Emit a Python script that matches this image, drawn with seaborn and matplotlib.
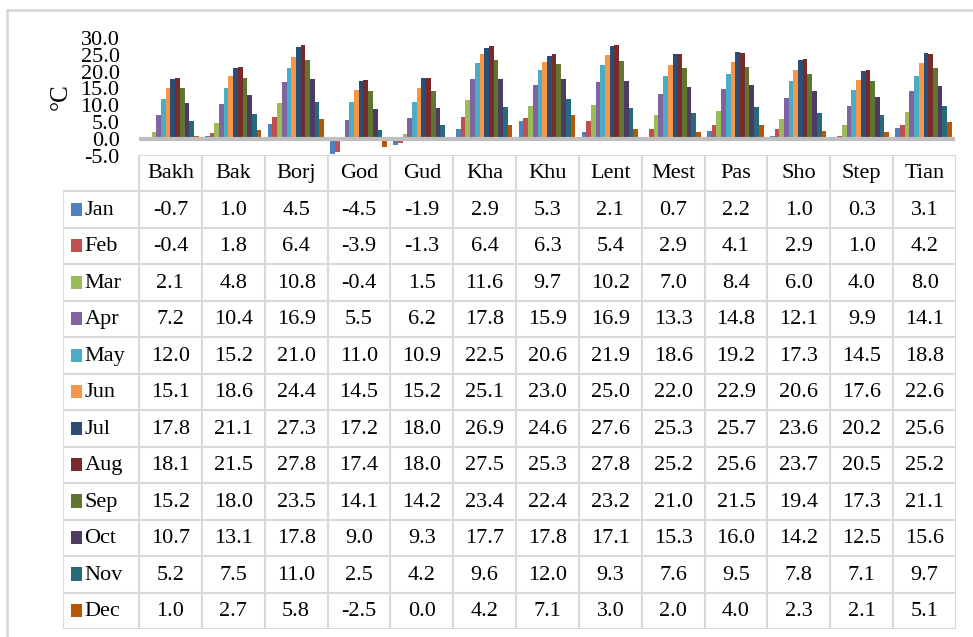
import numpy as np
import pandas as pd
import matplotlib
matplotlib.use("Agg")
import matplotlib.pyplot as plt
import seaborn as sns
from matplotlib.lines import Line2D
from matplotlib.patches import Rectangle

sites = ["Bakh", "Bak", "Borj", "God", "Gud", "Kha", "Khu", "Lent",
         "Mest", "Pas", "Sho", "Step", "Tian"]
months = ["Jan", "Feb", "Mar", "Apr", "May", "Jun",
          "Jul", "Aug", "Sep", "Oct", "Nov", "Dec"]

jan = [-0.7, 1.0, 4.5, -4.5, -1.9, 2.9, 5.3, 2.1, 0.7, 2.2, 1.0, 0.3, 3.1]
feb = [-0.4, 1.8, 6.4, -3.9, -1.3, 6.4, 6.3, 5.4, 2.9, 4.1, 2.9, 1.0, 4.2]
mar = [2.1, 4.8, 10.8, -0.4, 1.5, 11.6, 9.7, 10.2, 7.0, 8.4, 6.0, 4.0, 8.0]
apr = [7.2, 10.4, 16.9, 5.5, 6.2, 17.8, 15.9, 16.9, 13.3, 14.8, 12.1, 9.9, 14.1]
may = [12.0, 15.2, 21.0, 11.0, 10.9, 22.5, 20.6, 21.9, 18.6, 19.2, 17.3, 14.5, 18.8]
jun = [15.1, 18.6, 24.4, 14.5, 15.2, 25.1, 23.0, 25.0, 22.0, 22.9, 20.6, 17.6, 22.6]
jul = [17.8, 21.1, 27.3, 17.2, 18.0, 26.9, 24.6, 27.6, 25.3, 25.7, 23.6, 20.2, 25.6]
aug = [18.1, 21.5, 27.8, 17.4, 18.0, 27.5, 25.3, 27.8, 25.2, 25.6, 23.7, 20.5, 25.2]
sep = [15.2, 18.0, 23.5, 14.1, 14.2, 23.4, 22.4, 23.2, 21.0, 21.5, 19.4, 17.3, 21.1]
oct_ = [10.7, 13.1, 17.8, 9.0, 9.3, 17.7, 17.8, 17.1, 15.3, 16.0, 14.2, 12.5, 15.6]
nov = [5.2, 7.5, 11.0, 2.5, 4.2, 9.6, 12.0, 9.3, 7.6, 9.5, 7.8, 7.1, 9.7]
dec = [1.0, 2.7, 5.8, -2.5, 0.0, 4.2, 7.1, 3.0, 2.0, 4.0, 2.3, 2.1, 5.1]

series = [jan, feb, mar, apr, may, jun, jul, aug, sep, oct_, nov, dec]
colors = ["#4F81BD", "#C0504D", "#9BBB59", "#8064A2", "#4BACC6", "#F79646",
          "#2C4D75", "#772C2A", "#5F7530", "#4D3B62", "#276A7C", "#B65708"]
yticks = [-5.0, 0.0, 5.0, 10.0, 15.0, 20.0, 25.0, 30.0]

df = pd.DataFrame({
    "site": np.tile(sites, len(months)),
    "month": np.repeat(months, len(sites)),
    "temp": np.concatenate(series),
})

W, H = 973, 637
fig = plt.figure(figsize=(W / 100, H / 100), dpi=100)
serif = ["Liberation Serif", "DejaVu Serif"]
grid_c = "#D9D9D9"

def px(x0, y0, x1, y1):
    return [x0 / W, 1 - y1 / H, (x1 - x0) / W, (y1 - y0) / H]

# outer chart frame
frame = fig.add_axes([0, 0, 1, 1])
frame.set_xlim(0, W)
frame.set_ylim(H, 0)
frame.axis("off")
frame.add_line(Line2D([7, W], [10, 10], color=grid_c, lw=2))
frame.add_line(Line2D([7, 7], [10, H], color=grid_c, lw=2))

# bar chart
ax = fig.add_axes(px(139, 38, 955, 155.7))
sns.barplot(data=df, x="site", y="temp", hue="month", hue_order=months,
            palette=colors, width=0.9, ax=ax, legend=False, saturation=1,
            errorbar=None, edgecolor="none")
ax.set_ylim(-5, 30)
ax.set_xlim(-0.5, len(sites) - 0.5)
ax.set_yticks(yticks)
ax.set_yticklabels([f"{v:.1f}" for v in yticks], fontsize=16, family=serif)
ax.tick_params(axis="y", length=0, pad=14)
ax.set_xticks([])
ax.set_xlabel("")
ax.set_ylabel("°C", fontsize=18, family=serif, labelpad=6)
for s in ax.spines.values():
    s.set_visible(False)
ax.axhline(0, color="#BFBFBF", lw=3, zorder=5)

# data table
tab = fig.add_axes(px(63, 155, 956, 629))
ncol_w = 76 / ((956 - 139) / len(sites))
tab.set_xlim(-ncol_w, len(sites))
tab.set_ylim(len(months) + 1, 0)
tab.axis("off")

for i in range(len(sites) + 1):
    tab.add_line(Line2D([i, i], [0, len(months) + 1], color=grid_c, lw=1.5))
tab.add_line(Line2D([-ncol_w, -ncol_w], [1, len(months) + 1], color=grid_c, lw=1.5))
tab.add_line(Line2D([0, len(sites)], [0, 0], color=grid_c, lw=1.5))
for r in range(1, len(months) + 2):
    tab.add_line(Line2D([-ncol_w, len(sites)], [r, r], color=grid_c, lw=1.5))

for j, s in enumerate(sites):
    tab.text(j + 0.5, 0.52, s, ha="center", va="center", fontsize=16, family=serif)

for r, (m, vals) in enumerate(zip(months, series)):
    y = r + 1.5
    tab.add_patch(Rectangle((-ncol_w + 0.13, y - 0.19), 0.18, 0.36,
                            color=colors[r], lw=0))
    tab.text(-ncol_w + 0.34, y + 0.02, m, ha="left", va="center", fontsize=16,
             family=serif)
    for j, v in enumerate(vals):
        tab.text(j + 0.5, y + 0.02, f"{v:.1f}", ha="center", va="center",
                 fontsize=16, family=serif)

fig.savefig("out.png", dpi=100)
